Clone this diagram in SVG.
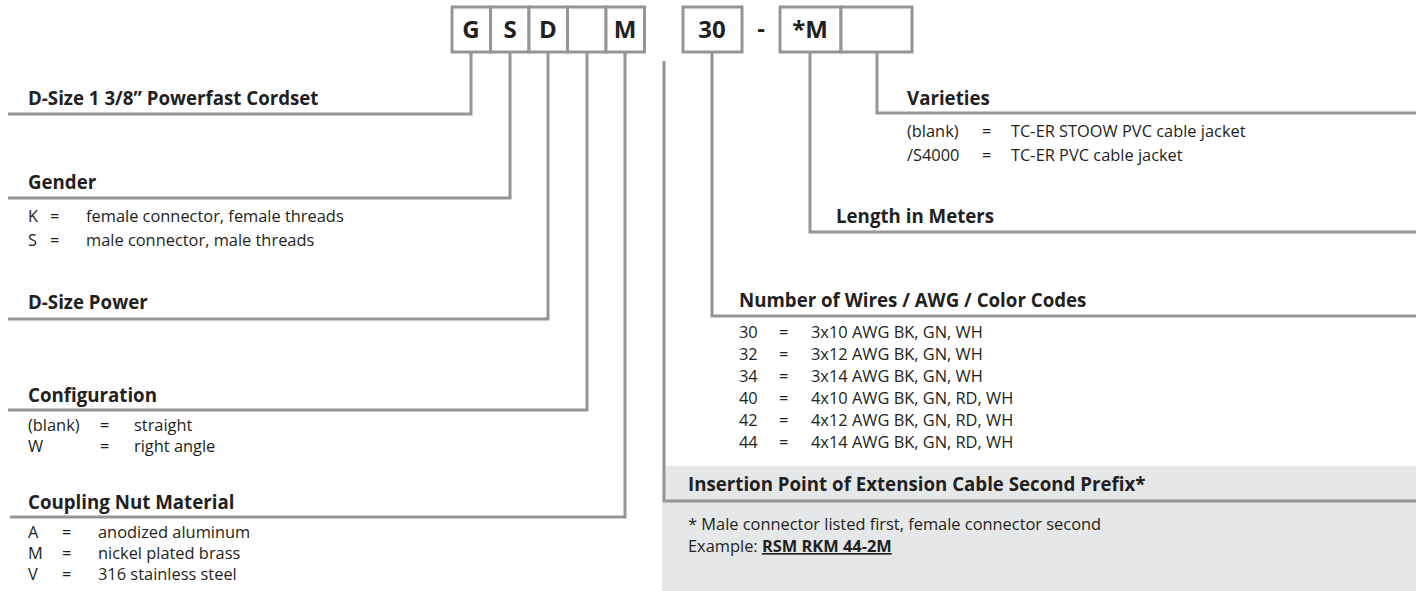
<svg xmlns="http://www.w3.org/2000/svg" width="1416" height="591" viewBox="0 0 1416 591">
<style>
text{font-family:"Open Sans","Noto Sans","Liberation Sans",sans-serif;fill:#231f20}
.h{font-size:18.7px;font-weight:700}
.b{font-size:16.4px}
.k{font-size:24px;font-weight:700;text-anchor:middle}
.cell{fill:#fff;stroke:#939598;stroke-width:3}
.con{fill:none;stroke:#939598;stroke-width:3}
</style>
<rect x="0" y="0" width="1416" height="591" fill="#fff"/>
<rect x="662" y="466" width="754" height="125" fill="#e6e7e8"/>
<g id="code">
<rect class="cell" x="452" y="7" width="38.5" height="45"/>
<rect class="cell" x="490.5" y="7" width="38.5" height="45"/>
<rect class="cell" x="529" y="7" width="38.5" height="45"/>
<rect class="cell" x="567.5" y="7" width="38.5" height="45"/>
<rect class="cell" x="606" y="7" width="38.5" height="45"/>
<rect class="cell" x="683" y="7" width="59" height="45"/>
<rect class="cell" x="780" y="7" width="61" height="45"/>
<rect class="cell" x="841" y="7" width="71" height="45"/>
<text class="k" x="471" y="38">G</text>
<text class="k" x="510" y="38">S</text>
<text class="k" x="548" y="38">D</text>
<text class="k" x="625" y="38">M</text>
<text class="k" x="712" y="38">30</text>
<text class="k" x="761" y="37">-</text>
<text class="k" x="810" y="38">*M</text>
</g>
<g id="connectors">
<path class="con" d="M471,52V114H8"/>
<path class="con" d="M510,52V198H8"/>
<path class="con" d="M548,52V319H8"/>
<path class="con" d="M587,52V410H8"/>
<path class="con" d="M625,52V517H10"/>
<path class="con" d="M712,52V316H1416"/>
<path class="con" d="M810,52V232H1416"/>
<path class="con" d="M877,52V113H1416"/>
<path class="con" d="M664,61V501H1416"/>
</g>
<g id="cordset">
<text class="h" x="28" y="105">D-Size 1 3/8” Powerfast Cordset</text>
</g>
<g id="gender">
<text class="h" x="28" y="189">Gender</text>
<text class="b" x="28" y="222">K</text><text class="b" x="50" y="222">=</text><text class="b" x="86" y="222">female connector, female threads</text>
<text class="b" x="28" y="246">S</text><text class="b" x="50" y="246">=</text><text class="b" x="86" y="246">male connector, male threads</text>
</g>
<g id="dsize">
<text class="h" x="28" y="309">D-Size Power</text>
</g>
<g id="configuration">
<text class="h" x="28" y="402">Configuration</text>
<text class="b" x="28" y="431">(blank)</text><text class="b" x="100" y="431">=</text><text class="b" x="134" y="431">straight</text>
<text class="b" x="28" y="452">W</text><text class="b" x="100" y="452">=</text><text class="b" x="134" y="452">right angle</text>
</g>
<g id="coupling">
<text class="h" x="28" y="509">Coupling Nut Material</text>
<text class="b" x="28" y="538">A</text><text class="b" x="62" y="538">=</text><text class="b" x="98" y="538">anodized aluminum</text>
<text class="b" x="28" y="559">M</text><text class="b" x="62" y="559">=</text><text class="b" x="98" y="559">nickel plated brass</text>
<text class="b" x="28" y="580">V</text><text class="b" x="62" y="580">=</text><text class="b" x="98" y="580">316 stainless steel</text>
</g>
<g id="varieties">
<text class="h" x="907" y="105">Varieties</text>
<text class="b" x="907" y="137">(blank)</text><text class="b" x="982" y="137">=</text><text class="b" x="1011" y="137">TC-ER STOOW PVC cable jacket</text>
<text class="b" x="907" y="161">/S4000</text><text class="b" x="982" y="161">=</text><text class="b" x="1011" y="161">TC-ER PVC cable jacket</text>
</g>
<g id="length">
<text class="h" x="836" y="223">Length in Meters</text>
</g>
<g id="wires">
<text class="h" x="739" y="307">Number of Wires / AWG / Color Codes</text>
<text class="b" x="739" y="338">30</text><text class="b" x="779" y="338">=</text><text class="b" x="811" y="338">3x10 AWG BK, GN, WH</text>
<text class="b" x="739" y="360">32</text><text class="b" x="779" y="360">=</text><text class="b" x="811" y="360">3x12 AWG BK, GN, WH</text>
<text class="b" x="739" y="382">34</text><text class="b" x="779" y="382">=</text><text class="b" x="811" y="382">3x14 AWG BK, GN, WH</text>
<text class="b" x="739" y="404">40</text><text class="b" x="779" y="404">=</text><text class="b" x="811" y="404">4x10 AWG BK, GN, RD, WH</text>
<text class="b" x="739" y="426">42</text><text class="b" x="779" y="426">=</text><text class="b" x="811" y="426">4x12 AWG BK, GN, RD, WH</text>
<text class="b" x="739" y="448">44</text><text class="b" x="779" y="448">=</text><text class="b" x="811" y="448">4x14 AWG BK, GN, RD, WH</text>
</g>
<g id="insertion">
<text class="h" x="688" y="491">Insertion Point of Extension Cable Second Prefix*</text>
<text class="b" x="688" y="530">* Male connector listed first, female connector second</text>
<text class="b" x="688" y="552">Example: <tspan font-weight="700" text-decoration="underline">RSM RKM 44-2M</tspan></text>
</g>
</svg>
